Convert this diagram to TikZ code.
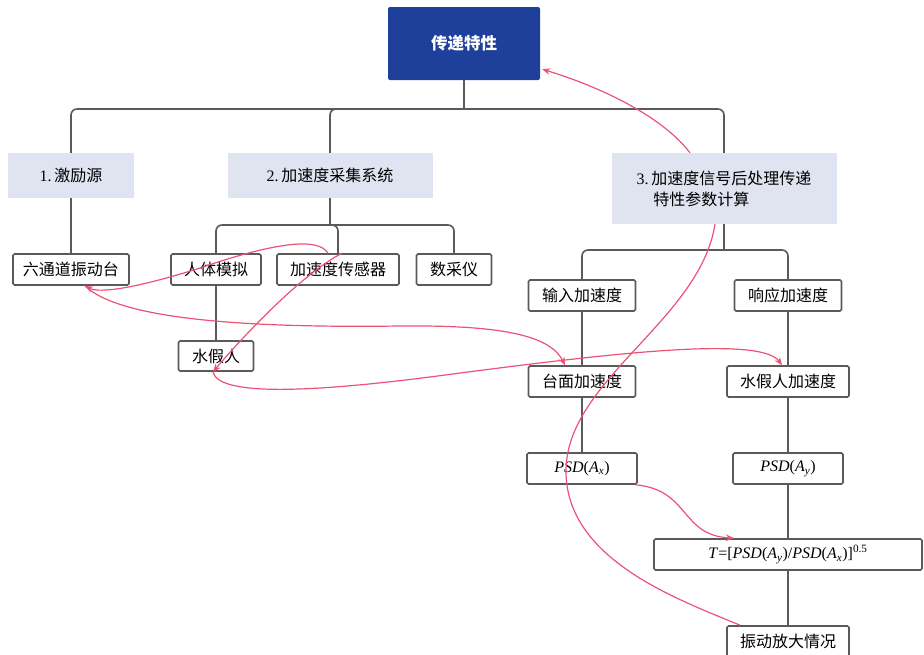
\documentclass[tikz,border=0pt]{standalone}
\usepackage{fontspec}
\setmainfont{Liberation Serif}
\newfontfamily\cjk{Noto Sans CJK SC}
\definecolor{titleblue}{RGB}{30, 64, 155}
\definecolor{groupbg}{RGB}{224, 227, 240}
\definecolor{linegray}{RGB}{90, 90, 90}
\definecolor{flowpink}{RGB}{236, 82, 118}
\usepackage{tikz}
\usetikzlibrary{arrows.meta, positioning, calc}

\begin{document}
\begin{tikzpicture}[x=1pt, y=-1pt,
  box/.style={draw=linegray, line width=1.6pt, rounded corners=1.5pt, fill=white,
    font=\fontsize{16}{19}\selectfont\cjk, inner sep=0pt, minimum height=31pt},
  group/.style={fill=groupbg, font=\fontsize{16}{21}\selectfont, inner sep=0pt,
    minimum height=45pt},
  tree/.style={draw=linegray, line width=1.6pt, rounded corners=6pt},
  flow/.style={draw=flowpink, line width=1.2pt, -{Stealth[length=8pt, width=6.5pt]}},
]
\useasboundingbox (0,0) rectangle (924,654);

% Top
\node[fill=titleblue, rounded corners=2pt, text=white, minimum width=152pt, minimum height=73pt,
  font=\fontsize{16.5}{19}\selectfont\cjk\bfseries] (top) at (464, 43.5) {传递特性};

% Three groups
\node[group, minimum width=126pt] (src) at (71, 175.5) {1.\,{\cjk 激励源}};
\node[group, minimum width=205pt] (acq) at (330, 175.5) {2.\,{\cjk 加速度采集系统}};
\node[group, minimum width=225pt, minimum height=71pt, align=left] (proc) at (724, 188.5)
{3.\,{\cjk 加速度信号后处理传递}\\\hspace*{1.05em}{\cjk 特性参数计算}};

\coordinate (bar1) at (464, 109);
\draw[tree] (top.south) -- (bar1);
\draw[tree] (src.north) |- (bar1) -| (proc.north);
\draw[tree] (acq.north) |- (bar1);

% Excitation source
\node[box, minimum width=116pt] (table) at (71, 269.5) {六通道振动台};
\draw[tree] (src.south) -- (table.north);

% Acquisition system
\node[box, minimum width=90pt] (human) at (216, 269.5) {人体模拟};
\node[box, minimum width=122pt] (sensor) at (338, 269.5) {加速度传感器};
\node[box, minimum width=75pt] (daq) at (454, 269.5) {数采仪};
\node[box, minimum width=75pt, minimum height=30pt] (dummy) at (216, 356) {水假人};

\coordinate (bar2) at (330, 225);
\draw[tree] (acq.south) -- (bar2);
\draw[tree] (human.north) |- (bar2) -| (daq.north);
\draw[tree] (sensor.north) |- (bar2);
\draw[tree] (human.south) -- (dummy.north);

% Post processing
\node[box, minimum width=107pt] (inacc) at (582, 295.5) {输入加速度};
\node[box, minimum width=107pt] (resacc) at (788, 295.5) {响应加速度};
\node[box, minimum width=107pt] (tabacc) at (582, 381.5) {台面加速度};
\node[box, minimum width=122pt] (dumacc) at (788, 381.5) {水假人加速度};
\node[box, minimum width=110pt, font=\fontsize{16}{19}\selectfont] (psdx) at (582, 468.5)
{\textit{PSD}(\textit{A}\textsubscript{\textit{x}})};
\node[box, minimum width=110pt, font=\fontsize{16}{19}\selectfont] (psdy) at (788, 468.5)
{\textit{PSD}(\textit{A}\textsubscript{\textit{y}})};
\node[box, minimum width=268pt, font=\fontsize{16}{19}\selectfont] (ratio) at (788, 554.5)
{\textit{T}=[\textit{PSD}(\textit{A}\textsubscript{\textit{y}})/\textit{PSD}(\textit{A}\textsubscript{\textit{x}})]\textsuperscript{0.5}};
\node[box, minimum width=122pt] (amp) at (788, 641.5) {振动放大情况};

\coordinate (bar3) at (724, 250);
\draw[tree] (proc.south) -- (bar3);
\draw[tree] (inacc.north) |- (bar3) -| (resacc.north);
\draw[tree] (inacc.south) -- (tabacc.north);
\draw[tree] (tabacc.south) -- (psdx.north);
\draw[tree] (resacc.south) -- (dumacc.north);
\draw[tree] (dumacc.south) -- (psdy.north);
\draw[tree] (psdy.south) -- (ratio.north);
\draw[tree] (ratio.south) -- (amp.north);

% Flow curves
\draw[flow] ([xshift=-34pt]proc.north) .. controls (665,120) and (610,90) .. ([shift={(2pt,11pt)}]top.south east);
\draw[flowpink, line width=1.2pt] ([xshift=-9pt]proc.south) .. controls (700,320) and (567,380) .. (566,470)
  .. controls (565,560) and (680,600) .. ([xshift=-48pt]amp.north);
\draw[flow] ([xshift=-10pt]sensor.north) .. controls (318,236) and (270,244) .. (200,268)
  .. controls (140,287) and (100,294) .. ([xshift=14pt]table.south);
\draw[flow] ([xshift=4pt]sensor.north) .. controls (300,275) and (240,340) .. ([xshift=-3pt]dummy.south);
\draw[flow] ([xshift=14pt]table.south) .. controls (120,320) and (250,328) .. (400,326)
  .. controls (500,325) and (550,335) .. ([xshift=-17pt]tabacc.north);
\draw[flow] ([xshift=-3pt]dummy.south) .. controls (218,395) and (300,395) .. (460,373)
  .. controls (600,355) and (760,335) .. ([xshift=-6pt]dumacc.north);
\draw[flow] ([xshift=-2pt]psdx.south east) .. controls (690,490) and (680,535) .. ([xshift=-54pt]ratio.north);
\end{tikzpicture}
\end{document}
